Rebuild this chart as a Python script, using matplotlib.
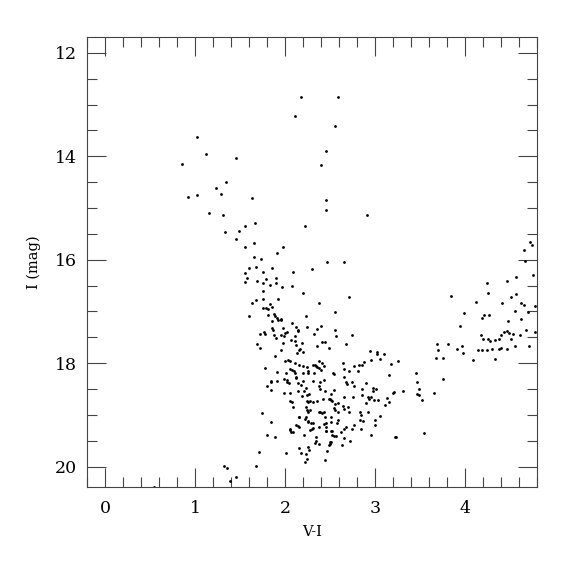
import numpy as np
import matplotlib.pyplot as plt
from matplotlib.ticker import MultipleLocator

# Colour-magnitude diagram, values
# (V-I, I) pairs, grouped roughly by region of the diagram
bright = [
    (2.11, 13.22), (1.02, 13.63), (1.12, 13.96), (0.86, 14.15), (1.46, 14.03),
    (1.34, 14.50), (1.23, 14.62), (1.29, 14.72), (0.92, 14.78), (1.02, 14.74),
    (1.63, 14.81), (1.16, 15.10), (1.31, 15.13), (1.67, 15.28), (1.55, 15.34),
    (1.49, 15.44), (1.33, 15.47), (1.46, 15.60), (1.98, 15.75), (1.66, 15.67),
    (1.56, 15.75), (1.91, 15.87), (1.65, 15.95), (1.73, 15.98), (2.09, 16.24),
    (1.68, 16.14), (1.60, 16.16), (1.86, 16.15), (1.75, 16.24), (1.58, 16.36),
    (1.55, 16.43), (1.69, 16.42), (1.79, 16.38), (1.90, 16.36), (1.75, 16.45),
    (1.83, 16.48), (1.90, 16.45), (1.97, 16.53), (2.08, 16.50), (1.75, 16.60),
    (1.56, 16.25),
    (2.18, 12.85), (2.59, 12.85), (2.55, 13.41), (2.45, 13.90), (2.40, 14.17),
    (2.45, 14.84), (2.45, 15.04), (2.91, 15.13), (2.22, 15.35), (2.47, 16.05),
    (2.65, 16.04), (2.30, 16.18), (2.20, 16.64), (2.71, 16.72),
]

red_branch = [
    (4.72, 15.66), (4.74, 15.71), (4.66, 15.82), (4.67, 16.02), (4.75, 16.29),
    (4.57, 16.33), (4.47, 16.42), (4.24, 16.45), (4.25, 16.65), (4.57, 16.66),
    (4.51, 16.72), (3.84, 16.70), (4.12, 16.81), (4.41, 16.83), (4.62, 16.84),
    (4.66, 16.87), (4.78, 16.89), (4.55, 16.99), (4.70, 17.01), (3.99, 17.03),
    (4.21, 17.06), (4.27, 17.06), (4.19, 17.13), (4.48, 17.18), (4.62, 17.15),
    (3.94, 17.28), (4.43, 17.40), (4.68, 17.36), (4.78, 17.40), (4.47, 17.38),
    (4.49, 17.41), (4.53, 17.44), (4.40, 17.45), (4.61, 17.46), (4.18, 17.45),
    (4.20, 17.53), (4.25, 17.53), (4.28, 17.58), (4.33, 17.56), (4.38, 17.54),
    (4.51, 17.53), (4.38, 17.72), (4.40, 17.71), (4.47, 17.72), (4.55, 17.67),
    (4.71, 17.67), (4.14, 17.75), (4.19, 17.74), (4.24, 17.75), (4.30, 17.73),
    (4.33, 17.91), (4.09, 17.94), (3.69, 17.62), (3.91, 17.72), (3.97, 17.67),
    (3.98, 17.80), (3.70, 17.74), (3.68, 17.90), (3.75, 17.90), (3.81, 17.62),
    (3.76, 18.30), (3.65, 18.58), (3.46, 18.19), (3.47, 18.36), (3.49, 18.49),
    (3.47, 18.59), (3.49, 18.61), (3.52, 18.71), (3.54, 19.35), (3.22, 19.42),
    (3.31, 18.54), (3.26, 17.96), (3.18, 18.01), (3.15, 18.23), (3.20, 18.57),
]

middle = [
    (2.55, 17.01), (2.55, 17.36), (2.57, 17.47), (2.74, 17.46), (2.68, 17.63),
    (2.94, 17.77), (3.02, 17.78), (3.02, 17.83), (3.10, 17.83), (3.06, 17.92),
    (2.95, 17.94), (2.88, 17.98), (2.86, 18.03), (2.82, 18.03), (2.77, 18.06),
    (2.81, 18.15), (2.64, 17.99), (2.65, 18.12), (2.71, 18.15), (2.54, 18.20),
    (2.65, 18.26), (2.68, 18.36), (2.74, 18.36), (2.69, 18.41), (2.77, 18.44),
    (2.90, 18.38), (2.86, 18.49), (2.98, 18.48), (3.01, 18.49), (2.98, 18.54),
    (3.21, 18.55), (2.54, 18.51), (2.66, 18.65), (2.76, 18.66), (2.86, 18.61),
    (2.92, 18.66), (2.93, 18.69), (2.96, 18.66), (2.99, 18.72), (3.03, 18.71),
    (3.13, 18.68), (3.15, 18.76), (3.11, 18.81), (2.90, 18.77), (2.50, 18.69),
    (2.52, 18.74), (2.55, 18.78), (2.59, 18.77), (2.54, 18.86), (2.56, 18.91),
    (2.59, 18.95), (2.64, 18.83), (2.66, 18.88), (2.70, 18.85), (2.71, 18.95),
    (2.83, 18.95), (2.84, 19.00), (2.92, 18.95), (3.06, 19.03), (2.83, 19.09),
    (2.87, 19.11), (3.00, 19.09), (3.00, 19.19), (2.51, 19.14), (2.59, 19.09),
    (2.58, 19.16), (2.77, 19.20), (2.74, 19.27), (2.84, 19.28), (2.68, 19.24),
    (2.65, 19.28), (2.62, 19.33), (2.52, 19.32), (2.54, 19.40), (2.57, 19.40),
    (2.96, 19.38), (2.66, 19.44), (2.72, 19.51), (2.63, 19.58), (3.23, 19.43),
    (2.50, 19.52), (2.50, 19.57),
]

faint = [
    (1.84, 19.13), (1.80, 19.38), (1.89, 19.42), (1.71, 19.71), (1.68, 19.99),
    (1.35, 20.02), (1.32, 19.98), (1.39, 20.27), (1.46, 20.20), (2.01, 19.74),
    (2.05, 19.29), (2.07, 19.33), (2.12, 19.20), (2.15, 19.24), (2.21, 19.39),
    (2.25, 19.13), (2.28, 19.30), (2.31, 19.26), (2.31, 19.15), (2.38, 19.24),
    (2.43, 19.18), (2.45, 19.24), (2.46, 19.31), (2.51, 19.31), (2.52, 19.39),
    (2.34, 19.42), (2.34, 19.51), (2.33, 19.55), (2.38, 19.57), (2.51, 19.53),
    (2.49, 19.58), (2.25, 19.62), (2.27, 19.67), (2.15, 19.64), (2.18, 19.74),
    (2.23, 19.75), (2.24, 19.86), (2.22, 19.91), (2.47, 19.70), (2.44, 19.87),
    (0.54, 20.39), (2.15, 19.04),
]

main_clump = [
    (1.72, 17.43), (1.77, 17.40), (1.78, 17.43), (1.88, 17.46), (1.90, 17.52),
    (1.96, 17.46), (2.00, 17.41), (2.02, 17.40), (1.99, 17.47), (2.11, 17.48),
    (2.14, 17.38), (2.07, 17.56), (2.11, 17.58), (1.98, 17.60), (2.19, 17.60),
    (2.32, 17.44), (2.41, 17.59), (2.44, 17.59), (1.69, 17.62), (1.72, 17.70),
    (2.12, 17.65), (2.36, 17.66), (2.17, 17.72), (2.15, 17.74), (1.95, 17.75),
    (2.13, 17.81), (2.20, 17.79), (1.89, 17.86), (2.49, 17.71), (2.03, 17.94),
    (2.06, 17.96), (2.00, 17.96), (2.38, 17.96), (2.41, 17.99), (2.11, 18.00),
    (2.15, 18.04), (2.31, 18.04), (2.33, 18.04), (2.34, 18.06), (2.35, 18.07),
    (2.20, 18.06), (2.24, 18.07), (1.78, 18.09), (2.06, 18.12), (2.08, 18.14),
    (2.10, 18.15), (2.11, 18.18), (2.38, 18.10), (2.40, 18.13), (2.43, 18.06),
    (2.26, 18.15), (2.32, 18.19), (2.25, 18.19), (2.53, 18.19), (2.20, 18.18),
    (2.01, 18.19), (1.91, 18.17), (2.12, 18.26), (2.12, 18.29), (1.99, 18.30),
    (2.02, 18.32), (2.20, 18.34), (2.02, 18.36), (1.84, 18.35), (1.91, 18.34),
    (2.14, 18.38), (2.04, 18.39), (2.31, 18.35), (2.39, 18.37), (2.43, 18.32),
    (1.80, 18.44), (1.84, 18.51), (2.18, 18.43), (2.23, 18.48), (2.38, 18.45),
    (2.39, 18.50), (2.44, 18.53), (2.05, 18.57), (1.99, 18.58), (2.14, 18.54),
    (2.21, 18.54), (2.27, 18.60), (2.24, 18.62), (2.19, 18.64), (2.51, 18.59),
    (2.49, 18.70), (2.51, 18.72), (2.06, 18.73), (2.08, 18.75), (2.24, 18.73),
    (2.25, 18.75), (2.28, 18.73), (2.31, 18.75), (2.36, 18.73), (2.42, 18.70),
    (2.09, 18.85), (2.23, 18.85), (2.24, 18.90), (2.28, 18.90), (2.26, 18.95),
    (2.38, 18.95), (2.39, 18.95), (2.41, 18.96), (2.43, 18.95), (2.44, 19.05),
    (2.46, 19.16), (2.45, 19.31), (2.30, 19.27), (2.29, 19.15), (2.23, 19.05),
    (2.22, 19.07), (2.26, 19.11), (2.16, 19.05), (2.14, 19.22), (2.06, 19.28),
    (2.09, 19.33), (1.74, 18.96), (2.51, 19.04), (1.84, 18.36),
    (1.68, 16.78), (1.75, 16.75), (1.92, 16.75), (1.63, 16.84), (1.83, 16.86),
    (1.75, 16.93), (1.79, 16.93), (1.81, 16.96), (1.85, 16.92), (2.38, 16.84),
    (2.23, 17.08), (1.88, 17.04), (1.89, 17.09), (1.91, 17.12), (1.92, 17.16),
    (1.95, 17.16), (1.96, 17.14), (1.85, 17.18), (1.81, 17.07), (1.60, 17.08),
    (2.08, 17.22), (2.12, 17.30), (2.14, 17.36), (2.24, 17.30), (2.36, 17.34),
    (2.40, 17.28), (1.86, 17.32), (1.87, 17.36), (1.98, 17.32),
]

stars = np.array(bright + red_branch + middle + faint + main_clump)
v_i = stars[:, 0]
i_mag = stars[:, 1]

plt.rcParams['font.family'] = ['DejaVu Serif']

fig = plt.figure(figsize=(5.75, 5.75), dpi=100)
ax = fig.add_axes([0.1513, 0.1525, 0.7827, 0.7825])

ax.plot(v_i, i_mag, 'o', color='black', markersize=2.0, markeredgewidth=0)

ax.set_xlim(-0.2, 4.8)
ax.set_ylim(20.4, 11.7)

ax.xaxis.set_major_locator(MultipleLocator(1))
ax.xaxis.set_minor_locator(MultipleLocator(0.2))
ax.yaxis.set_major_locator(MultipleLocator(2))
ax.yaxis.set_minor_locator(MultipleLocator(0.5))

ax.tick_params(which='both', direction='in', top=True, right=True,
               color='#444444', width=0.8)
ax.tick_params(which='major', length=13.7, labelsize=12.5)
ax.tick_params(axis='x', which='major', pad=9)
ax.tick_params(axis='y', which='major', pad=7)
ax.tick_params(which='minor', length=7)

for s in ax.spines.values():
    s.set_color('#444444')
    s.set_linewidth(0.8)

ax.set_xlabel('V-I', fontsize=10.5, labelpad=6)
ax.set_ylabel('I (mag)', fontsize=10.5, labelpad=10)

fig.savefig('out.png', dpi=100)
